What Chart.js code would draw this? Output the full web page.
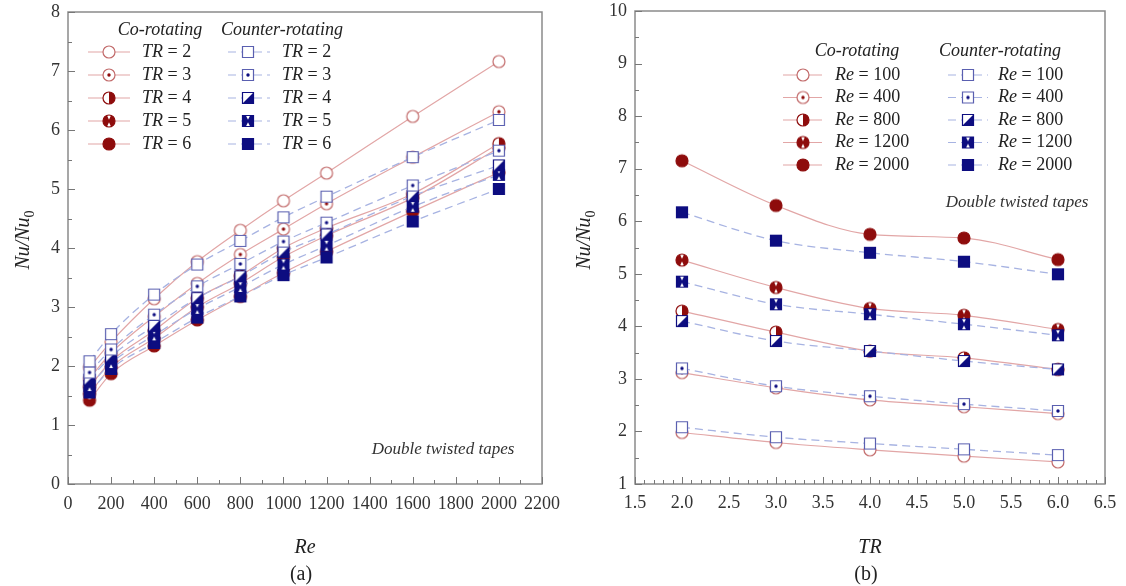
<!DOCTYPE html>
<html>
<head>
<meta charset="utf-8">
<script src="https://cdn.jsdelivr.net/npm/chart.js@4.4.1/dist/chart.umd.min.js"></script>
<style>
  html, body { margin: 0; padding: 0; background: #fff; }
  #wrapA { position: absolute; left: 0; top: 0; width: 560px; height: 586px; }
  #wrapB { position: absolute; left: 560px; top: 0; width: 566px; height: 586px; }
</style>
</head>
<body>
<div id="wrapA"><canvas id="chartA" width="560" height="586"></canvas></div>
<div id="wrapB"><canvas id="chartB" width="566" height="586"></canvas></div>
<script>
// panel (a): Nu/Nu0 against Re, one series per TR
const reValues = [100, 200, 400, 600, 800, 1000, 1200, 1600, 2000];
const trLabels = ['2', '3', '4', '5', '6'];
const coByTR = [
  [1.98, 2.41, 3.14, 3.77, 4.30, 4.80, 5.27, 6.23, 7.16],
  [1.79, 2.22, 2.84, 3.40, 3.89, 4.32, 4.75, 5.54, 6.31],
  [1.65, 2.08, 2.60, 3.15, 3.53, 4.00, 4.34, 4.92, 5.77],
  [1.53, 1.98, 2.47, 3.00, 3.40, 3.85, 4.21, 4.85, 5.70],
  [1.42, 1.87, 2.34, 2.78, 3.18, 3.58, 3.94, 4.62, 5.28]
];
const counterByTR = [
  [2.08, 2.54, 3.21, 3.72, 4.12, 4.52, 4.87, 5.54, 6.17],
  [1.89, 2.28, 2.87, 3.35, 3.73, 4.11, 4.43, 5.06, 5.65],
  [1.77, 2.16, 2.68, 3.15, 3.52, 3.93, 4.23, 4.88, 5.40],
  [1.66, 2.05, 2.52, 2.97, 3.34, 3.72, 4.04, 4.70, 5.24],
  [1.55, 1.95, 2.39, 2.82, 3.18, 3.54, 3.84, 4.45, 5.00]
];

// panel (b): Nu/Nu0 against TR, one series per Re
const trValues = [2, 3, 4, 5, 6];
const reLabels = ['100', '400', '800', '1200', '2000'];
const coByRe = [
  [1.98, 1.79, 1.65, 1.53, 1.42],
  [3.12, 2.83, 2.60, 2.47, 2.34],
  [4.29, 3.89, 3.53, 3.40, 3.18],
  [5.26, 4.74, 4.34, 4.21, 3.94],
  [7.15, 6.30, 5.75, 5.68, 5.27]
];
const counterByRe = [
  [2.08, 1.89, 1.77, 1.66, 1.55],
  [3.20, 2.86, 2.67, 2.52, 2.39],
  [4.10, 3.72, 3.53, 3.34, 3.18],
  [4.85, 4.42, 4.23, 4.04, 3.83],
  [6.17, 5.63, 5.40, 5.23, 4.99]
];

const RED = '#8e0c0c', ROSE = '#c26a6a', NAVY = '#0d0d80', SLATE = '#5a5fb0';
const CO_LINE = '#e2a6a6', CTR_LINE = '#a7b3e2';
const SERIF = '"Liberation Serif", "Times New Roman", serif';
const fills = ['open', 'dot', 'half', 'h', 'full'];

// small canvas glyphs for the markers
function makeMarker(shape, fill) {
  const c = document.createElement('canvas');
  c.width = 16; c.height = 16;
  const g = c.getContext('2d');
  const m = 8;
  const circle = shape === 'circle';
  const dark = circle ? RED : NAVY;
  const light = circle ? ROSE : SLATE;
  const r = circle ? 6 : 5.5;
  const path = () => {
    g.beginPath();
    if (circle) g.arc(m, m, r, 0, Math.PI * 2);
    else g.rect(m - r, m - r, 2 * r, 2 * r);
  };
  path(); g.fillStyle = '#fff'; g.fill();
  if (fill === 'full' || fill === 'h') { path(); g.fillStyle = dark; g.fill(); }
  if (fill === 'half') {
    g.save(); path(); g.clip();
    g.fillStyle = dark; g.beginPath();
    if (circle) g.rect(m, 0, 16, 16);
    else { g.moveTo(m + r, m - r); g.lineTo(m + r, m + r); g.lineTo(m - r, m + r); g.closePath(); }
    g.fill(); g.restore();
  }
  if (fill === 'h') {
    g.save(); path(); g.clip();
    g.fillStyle = '#fff';
    g.beginPath(); g.moveTo(m - 2.6, m - r - 1); g.lineTo(m + 2.6, m - r - 1); g.lineTo(m, m - 1.2); g.closePath(); g.fill();
    g.beginPath(); g.moveTo(m - 2.6, m + r + 1); g.lineTo(m + 2.6, m + r + 1); g.lineTo(m, m + 1.2); g.closePath(); g.fill();
    g.restore();
  }
  if (fill === 'dot') {
    g.beginPath(); g.arc(m, m, 1.7, 0, Math.PI * 2); g.fillStyle = dark; g.fill();
  }
  path();
  g.lineWidth = 1.2;
  g.strokeStyle = (fill === 'open' || fill === 'dot') ? light : dark;
  g.stroke();
  return c;
}
const circleMarks = fills.map(f => makeMarker('circle', f));
const squareMarks = fills.map(f => makeMarker('square', f));

function buildDatasets(xs, coRows, ctrRows, names, prefix) {
  const ds = [];
  ctrRows.forEach((row, i) => ds.push({
    label: 'Counter-rotating ' + prefix + ' = ' + names[i],
    data: xs.map((x, j) => ({ x: x, y: row[j] })),
    borderColor: CTR_LINE, borderWidth: 1.3, borderDash: [8, 5],
    pointStyle: squareMarks[i], pointRadius: 6,
    cubicInterpolationMode: 'monotone', fill: false
  }));
  coRows.forEach((row, i) => ds.push({
    label: 'Co-rotating ' + prefix + ' = ' + names[i],
    data: xs.map((x, j) => ({ x: x, y: row[j] })),
    borderColor: CO_LINE, borderWidth: 1.2,
    pointStyle: circleMarks[i], pointRadius: 6,
    cubicInterpolationMode: 'monotone', fill: false
  }));
  return ds;
}

function drawMixed(ctx, x, y, italicPart, rest, size) {
  ctx.font = 'italic ' + size + 'px ' + SERIF;
  ctx.fillText(italicPart, x, y);
  const w = ctx.measureText(italicPart).width;
  ctx.font = size + 'px ' + SERIF;
  ctx.fillText(rest, x + w, y);
}

// frame, inward ticks, titles and the in-plot legend
const framePlugin = {
  id: 'frame',
  beforeDatasetsDraw(chart, args, o) {
    const { ctx, chartArea: a, scales: { x, y } } = chart;
    ctx.save();
    ctx.strokeStyle = '#8a8a8a';
    ctx.lineWidth = 1.5;
    ctx.strokeRect(a.left, a.top, a.right - a.left, a.bottom - a.top);
    ctx.lineWidth = 1;
    ctx.strokeStyle = '#777';
    ctx.beginPath();
    for (let i = o.xTicks[0]; i <= o.xTicks[1]; i++) {
      const px = Math.round(x.getPixelForValue(i * o.xTicks[2])) + 0.5;
      const len = i % o.xTicks[3] === 0 ? 7 : 4;
      ctx.moveTo(px, a.bottom); ctx.lineTo(px, a.bottom - len);
    }
    for (let i = o.yTicks[0]; i <= o.yTicks[1]; i++) {
      const py = Math.round(y.getPixelForValue(i * o.yTicks[2])) + 0.5;
      const len = i % o.yTicks[3] === 0 ? 7 : 4;
      ctx.moveTo(a.left, py); ctx.lineTo(a.left + len, py);
    }
    ctx.stroke();
    ctx.restore();
  },
  afterDraw(chart, args, o) {
    const { ctx, chartArea: a } = chart;
    const cx = (a.left + a.right) / 2;
    ctx.save();
    ctx.fillStyle = '#222';
    ctx.textBaseline = 'middle';
    // axis titles
    ctx.textAlign = 'center';
    ctx.font = 'italic 20px ' + SERIF;
    ctx.fillText(o.xTitle, cx, 548);
    ctx.font = '20px ' + SERIF;
    ctx.fillText(o.panel, cx - 4, 575);
    ctx.save();
    ctx.translate(o.yTitleX, 240);
    ctx.rotate(-Math.PI / 2);
    ctx.textAlign = 'left';
    ctx.font = 'italic 20px ' + SERIF;
    const w1 = ctx.measureText('Nu/Nu').width;
    ctx.font = '14px ' + SERIF;
    const w2 = ctx.measureText('0').width;
    ctx.font = 'italic 20px ' + SERIF;
    ctx.fillText('Nu/Nu', -(w1 + w2) / 2, 0);
    ctx.font = '14px ' + SERIF;
    ctx.fillText('0', -(w1 + w2) / 2 + w1, 6);
    ctx.restore();
    // annotation
    ctx.font = 'italic 17px ' + SERIF;
    ctx.fillStyle = '#333';
    ctx.fillText('Double twisted tapes', o.note[0], o.note[1]);
    // legend
    const L = o.legend;
    ctx.fillStyle = '#222';
    ctx.font = 'italic 18px ' + SERIF;
    ctx.fillText('Co-rotating', L.coTitle, L.titleY);
    ctx.fillText('Counter-rotating', L.ctrTitle, L.titleY);
    ctx.textAlign = 'left';
    L.names.forEach((n, i) => {
      const yy = L.rowY + i * L.rowStep;
      ctx.lineWidth = 1.2;
      ctx.strokeStyle = CO_LINE;
      ctx.setLineDash([]);
      ctx.beginPath(); ctx.moveTo(L.co[0], yy); ctx.lineTo(L.co[2], yy); ctx.stroke();
      ctx.strokeStyle = CTR_LINE;
      ctx.setLineDash([8, 5]);
      ctx.beginPath(); ctx.moveTo(L.ctr[0], yy); ctx.lineTo(L.ctr[2], yy); ctx.stroke();
      ctx.setLineDash([]);
      ctx.drawImage(circleMarks[i], L.co[1] - 8, yy - 8);
      ctx.drawImage(squareMarks[i], L.ctr[1] - 8, yy - 8);
      ctx.fillStyle = '#222';
      drawMixed(ctx, L.co[3], yy, L.prefix, ' = ' + n, 18);
      drawMixed(ctx, L.ctr[3], yy, L.prefix, ' = ' + n, 18);
    });
    ctx.restore();
  }
};

function axisOpts(min, max, step, fit, pad, decimals) {
  return {
    type: 'linear', min: min, max: max,
    grid: { display: false, drawTicks: false },
    border: { display: false },
    afterFit: fit,
    ticks: {
      stepSize: step, padding: pad, color: '#333',
      maxRotation: 0, minRotation: 0, autoSkip: false,
      font: { family: SERIF, size: 18 },
      callback: v => decimals ? Number(v).toFixed(decimals) : String(v)
    }
  };
}

// fixed box sizes so the plot area lands where the reference has it
const fitX = s => { s.height = 102; s.paddingLeft = 0; s.paddingRight = 0; };
const fitY = w => s => { s.width = w; s.paddingTop = 0; s.paddingBottom = 0; };

new Chart(document.getElementById('chartA'), {
  type: 'line',
  data: { datasets: buildDatasets(reValues, coByTR, counterByTR, trLabels, 'TR') },
  plugins: [framePlugin],
  options: {
    responsive: false, animation: false,
    layout: { padding: { top: 12, right: 18, bottom: 0, left: 0 } },
    scales: {
      x: axisOpts(0, 2200, 200, fitX, 9, 0),
      y: axisOpts(0, 8, 1, fitY(68), 8, 0)
    },
    plugins: {
      legend: { display: false }, tooltip: { enabled: false },
      frame: {
        xTicks: [0, 22, 100, 2], yTicks: [0, 16, 0.5, 2],
        xTitle: 'Re', panel: '(a)', yTitleX: 24, note: [443, 450],
        legend: {
          names: trLabels, prefix: 'TR', titleY: 30, coTitle: 160, ctrTitle: 282,
          rowY: 52, rowStep: 23, co: [88, 109, 130, 142], ctr: [228, 248, 270, 282]
        }
      }
    }
  }
});

new Chart(document.getElementById('chartB'), {
  type: 'line',
  data: { datasets: buildDatasets(trValues, coByRe, counterByRe, reLabels, 'Re') },
  plugins: [framePlugin],
  options: {
    responsive: false, animation: false,
    layout: { padding: { top: 11, right: 21, bottom: 0, left: 0 } },
    scales: {
      x: axisOpts(1.5, 6.5, 0.5, fitX, 8, 1),
      y: axisOpts(1, 10, 1, fitY(75), 8, 0)
    },
    plugins: {
      legend: { display: false }, tooltip: { enabled: false },
      frame: {
        xTicks: [15, 65, 0.1, 5], yTicks: [2, 20, 0.5, 2],
        xTitle: 'TR', panel: '(b)', yTitleX: 25, note: [457, 203],
        legend: {
          names: reLabels, prefix: 'Re', titleY: 51, coTitle: 297, ctrTitle: 440,
          rowY: 75, rowStep: 22.5, co: [223, 243, 262, 275], ctr: [388, 408, 428, 438]
        }
      }
    }
  }
});
</script>
</body>
</html>
